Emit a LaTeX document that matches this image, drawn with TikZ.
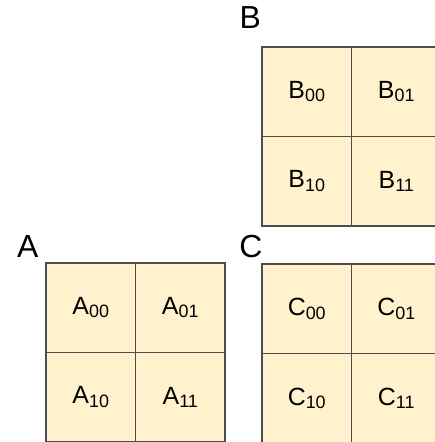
\documentclass[tikz,border=0pt]{standalone}
\usepackage{fontspec}
\setmainfont{Liberation Sans}
\usetikzlibrary{positioning}
\definecolor{cellfill}{HTML}{FFF2CC}
\definecolor{cellline}{HTML}{4D4D4D}
\newcommand\cellsub[1]{\raisebox{-3.5bp}{\fontsize{18}{21}\selectfont#1}}
\tikzset{
  cell/.style   = {draw=cellline, line width=1.2bp, fill=cellfill, minimum size=89.5bp,
                   inner sep=0pt, outer sep=0pt, font=\fontsize{25}{29}\selectfont},
  title/.style  = {inner sep=0pt, anchor=south east, font=\fontsize{32}{37}\selectfont},
  node distance = 0pt and 0pt,
}

\begin{document}
\begin{tikzpicture}[x=1bp, y=-1bp]
  \useasboundingbox (0,0) rectangle (435,442);
  % matrix A
  \node[cell] (a00) at (90.75,307.75) {A\cellsub{00}};
  \node[cell, right=of a00] (a01) {A\cellsub{01}};
  \node[cell, below=of a00] (a10) {A\cellsub{10}};
  \node[cell, right=of a10] (a11) {A\cellsub{11}};
  % matrix B
  \node[cell] (b00) at (306.75,91.75) {B\cellsub{00}};
  \node[cell, right=of b00] (b01) {B\cellsub{01}};
  \node[cell, below=of b00] (b10) {B\cellsub{10}};
  \node[cell, right=of b10] (b11) {B\cellsub{11}};
  % matrix C
  \node[cell] (c00) at (306.75,308.75) {C\cellsub{00}};
  \node[cell, right=of c00] (c01) {C\cellsub{01}};
  \node[cell, below=of c00] (c10) {C\cellsub{10}};
  \node[cell, right=of c10] (c11) {C\cellsub{11}};
  % names
  \node[title] (namea) at (38.5,258) {A};
  \node[title] (nameb) at (261,28.5) {B};
  \node[title] (namec) at (262.5,258) {C};
\end{tikzpicture}
\end{document}
